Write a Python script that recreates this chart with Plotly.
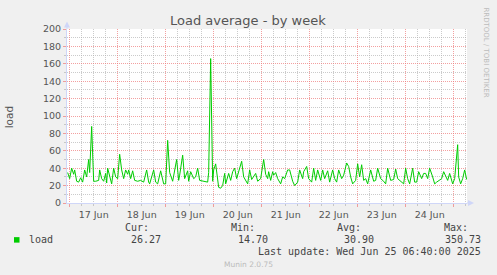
import plotly.graph_objects as go

# ---- data ----
times = [
    "2025-06-16 23:00", "2025-06-17 00:00", "2025-06-17 01:00", "2025-06-17 02:00", "2025-06-17 02:30",
    "2025-06-17 03:30", "2025-06-17 04:30", "2025-06-17 05:30", "2025-06-17 06:30", "2025-06-17 07:30",
    "2025-06-17 08:30", "2025-06-17 09:30", "2025-06-17 10:00", "2025-06-17 11:00", "2025-06-17 12:00",
    "2025-06-17 13:00", "2025-06-17 14:30", "2025-06-17 15:00", "2025-06-17 16:00", "2025-06-17 17:00",
    "2025-06-17 18:00", "2025-06-17 18:30", "2025-06-17 19:00", "2025-06-17 20:00", "2025-06-17 21:00",
    "2025-06-17 22:00", "2025-06-17 23:00", "2025-06-18 00:00", "2025-06-18 01:00", "2025-06-18 02:00",
    "2025-06-18 03:00", "2025-06-18 04:00", "2025-06-18 05:00", "2025-06-18 05:30", "2025-06-18 06:30",
    "2025-06-18 07:30", "2025-06-18 08:30", "2025-06-18 10:00", "2025-06-18 11:30", "2025-06-18 13:00",
    "2025-06-18 14:30", "2025-06-18 15:30", "2025-06-18 16:00", "2025-06-18 18:00", "2025-06-18 19:00",
    "2025-06-18 20:00", "2025-06-18 21:30", "2025-06-18 23:00", "2025-06-19 00:00", "2025-06-19 01:00",
    "2025-06-19 02:00", "2025-06-19 03:30", "2025-06-19 05:30", "2025-06-19 06:30", "2025-06-19 07:00",
    "2025-06-19 08:30", "2025-06-19 09:30", "2025-06-19 11:00", "2025-06-19 11:30", "2025-06-19 12:30",
    "2025-06-19 14:00", "2025-06-19 15:00", "2025-06-19 16:00", "2025-06-19 17:00", "2025-06-19 19:00",
    "2025-06-19 21:00", "2025-06-19 21:30", "2025-06-19 22:30", "2025-06-19 23:30", "2025-06-20 00:00",
    "2025-06-20 01:00", "2025-06-20 02:00", "2025-06-20 02:30", "2025-06-20 03:30", "2025-06-20 04:30",
    "2025-06-20 05:30", "2025-06-20 06:00", "2025-06-20 07:30", "2025-06-20 08:30", "2025-06-20 09:30",
    "2025-06-20 10:30", "2025-06-20 11:30", "2025-06-20 12:30", "2025-06-20 14:00", "2025-06-20 15:00",
    "2025-06-20 15:30", "2025-06-20 17:00", "2025-06-20 18:00", "2025-06-20 19:00", "2025-06-20 21:00",
    "2025-06-20 22:00", "2025-06-20 23:30", "2025-06-21 01:00", "2025-06-21 02:00", "2025-06-21 03:00",
    "2025-06-21 03:30", "2025-06-21 04:30", "2025-06-21 05:30", "2025-06-21 06:00", "2025-06-21 07:00",
    "2025-06-21 08:00", "2025-06-21 09:30", "2025-06-21 10:30", "2025-06-21 11:30", "2025-06-21 13:00",
    "2025-06-21 14:00", "2025-06-21 15:30", "2025-06-21 16:30", "2025-06-21 18:00", "2025-06-21 19:00",
    "2025-06-21 20:30", "2025-06-21 21:00", "2025-06-21 22:30", "2025-06-21 23:30", "2025-06-22 01:00",
    "2025-06-22 02:00", "2025-06-22 03:00", "2025-06-22 04:00", "2025-06-22 05:30", "2025-06-22 06:30",
    "2025-06-22 07:30", "2025-06-22 09:00", "2025-06-22 10:00", "2025-06-22 11:30", "2025-06-22 12:30",
    "2025-06-22 13:30", "2025-06-22 14:30", "2025-06-22 16:00", "2025-06-22 17:00", "2025-06-22 18:30",
    "2025-06-22 19:30", "2025-06-22 20:30", "2025-06-22 21:30", "2025-06-22 23:00", "2025-06-23 00:00",
    "2025-06-23 01:00", "2025-06-23 02:00", "2025-06-23 03:00", "2025-06-23 04:00", "2025-06-23 05:00",
    "2025-06-23 06:30", "2025-06-23 08:00", "2025-06-23 09:00", "2025-06-23 10:00", "2025-06-23 11:30",
    "2025-06-23 13:00", "2025-06-23 14:00", "2025-06-23 15:00", "2025-06-23 16:30", "2025-06-23 18:00",
    "2025-06-23 19:00", "2025-06-23 20:00", "2025-06-23 21:30", "2025-06-23 23:00", "2025-06-24 00:00",
    "2025-06-24 01:00", "2025-06-24 02:00", "2025-06-24 03:30", "2025-06-24 04:30", "2025-06-24 05:30",
    "2025-06-24 06:30", "2025-06-24 08:00", "2025-06-24 09:00", "2025-06-24 10:00", "2025-06-24 11:00",
    "2025-06-24 12:00", "2025-06-24 13:30", "2025-06-24 14:30", "2025-06-24 15:30", "2025-06-24 16:30",
    "2025-06-24 18:00", "2025-06-24 19:00", "2025-06-24 20:00", "2025-06-24 21:00", "2025-06-24 22:00",
    "2025-06-24 23:30", "2025-06-25 00:30", "2025-06-25 02:00", "2025-06-25 02:30", "2025-06-25 03:30",
    "2025-06-25 04:30", "2025-06-25 05:30", "2025-06-25 06:30",
]
load = [
    35, 28, 40, 33, 38,
    25, 24, 29, 24, 38,
    30, 50, 35, 88, 25,
    25, 26, 38, 28, 25,
    34, 23, 40, 30, 22,
    40, 30, 28, 56, 38,
    28, 38, 33, 38, 28,
    37, 26, 25, 26, 24,
    38, 24, 22, 38, 24,
    22, 37, 22, 22, 72,
    35, 25, 50, 26, 32,
    55, 28, 37, 25, 36,
    28, 30, 40, 26, 25,
    24, 35, 166, 25, 38,
    45, 22, 18, 17, 20,
    34, 22, 34, 26, 36,
    40, 28, 35, 48, 30,
    28, 22, 38, 27, 34,
    25, 28, 50, 33, 28,
    36, 26, 36, 32, 35,
    28, 22, 30, 28, 38,
    38, 25, 20, 24, 38,
    28, 36, 42, 28, 24,
    40, 26, 38, 26, 38,
    28, 37, 24, 38, 28,
    24, 38, 28, 32, 46,
    42, 30, 22, 26, 45,
    30, 44, 26, 28, 22,
    38, 25, 26, 40, 28,
    25, 22, 40, 26, 27,
    39, 28, 25, 22, 40,
    28, 22, 40, 24, 24,
    36, 28, 34, 34, 28,
    40, 30, 22, 24, 26,
    28, 36, 30, 26, 34,
    22, 28, 67, 30, 22,
    28, 38, 27,
]

x_range = ["2025-06-16 22:40", "2025-06-25 06:40"]
y_range = [0, 200]
legend_headers = ["Cur:", "Min:", "Avg:", "Max:"]
legend_values = ["26.27", "14.70", "30.90", "350.73"]
series_name = "load"
last_update = "Last update: Wed Jun 25 06:40:00 2025"

# ---- styling ----
W, H = 497, 275
L, R, T, B = 67, 30, 28.5, 72.2
PW, PH = W - L - R, H - T - B
FONT = "DejaVu Sans"
MONO = "DejaVu Sans Mono"
TXT = "#555555"
LEG = "#444444"
MAJOR = "rgba(238,120,120,0.7)"
MINOR = "rgba(175,175,175,0.65)"
DOT = "1px,1px"
AXIS = "#CFD6F8"
GREEN = "#00CC00"


def px(xp):
    return (xp - L) / PW


def py(yp):
    return (H - B - yp) / PH


fig = go.Figure()
fig.add_trace(go.Scatter(x=times, y=load, mode="lines",
                         line=dict(color=GREEN, width=1), name=series_name,
                         showlegend=False, hoverinfo="skip"))

fig.update_xaxes(
    type="date", range=x_range, tick0="2025-06-17", dtick=86400000,
    tickformat="%d %b", ticklabelmode="period",
    showgrid=True, gridcolor=MAJOR, griddash=DOT, gridwidth=1,
    ticks="outside", ticklen=3, tickcolor=MAJOR,
    minor=dict(dtick=6 * 3600 * 1000, showgrid=True, gridcolor=MINOR,
               griddash=DOT, ticks="outside", ticklen=2, tickcolor=MINOR),
    showline=True, linecolor=AXIS, linewidth=1, zeroline=False,
    tickfont=dict(family=FONT, size=9.5, color=TXT),
)
fig.update_yaxes(
    range=y_range, dtick=20, tick0=0,
    showgrid=True, gridcolor=MAJOR, griddash=DOT, gridwidth=1,
    ticks="outside", ticklen=3, tickcolor=MAJOR,
    minor=dict(dtick=10, showgrid=True, gridcolor=MINOR, griddash=DOT,
               ticks="outside", ticklen=2, tickcolor=MINOR),
    showline=True, linecolor=AXIS, linewidth=1, zeroline=False,
    tickfont=dict(family=FONT, size=9.5, color=TXT),
)

shapes = [
    # y axis extension + arrow
    dict(type="line", xref="paper", yref="paper", x0=0, x1=0, y0=1, y1=py(24),
         line=dict(color=AXIS, width=1)),
    dict(type="path", xref="paper", yref="paper",
         path=f"M {px(64)},{py(27)} L {px(70)},{py(27)} L {px(67)},{py(21)} Z",
         fillcolor=AXIS, line=dict(color=AXIS, width=0)),
    # x axis extension + arrow
    dict(type="line", xref="paper", yref="paper", x0=1, x1=px(470), y0=0, y1=0,
         line=dict(color=AXIS, width=1)),
    dict(type="path", xref="paper", yref="paper",
         path=f"M {px(468)},{py(H - B - 3)} L {px(468)},{py(H - B + 3)} L {px(474)},{py(H - B)} Z",
         fillcolor=AXIS, line=dict(color=AXIS, width=0)),
    # legend colour box
    dict(type="rect", xref="paper", yref="paper",
         x0=px(14), x1=px(19.5), y0=py(242.5), y1=py(237),
         fillcolor=GREEN, line=dict(width=0)),
]

ann = []
ann.append(dict(text="Load average - by week", x=px(248), y=py(19.5), xref="paper", yref="paper",
                showarrow=False, xanchor="center", yanchor="middle",
                font=dict(family=FONT, size=13, color=TXT)))
ann.append(dict(text="load", x=px(9), y=py(117), xref="paper", yref="paper", textangle=-90,
                showarrow=False, xanchor="center", yanchor="middle",
                font=dict(family=FONT, size=10.5, color=TXT)))
ann.append(dict(text="RRDTOOL / TOBI OETIKER", x=px(486), y=py(52), xref="paper", yref="paper",
                textangle=90, showarrow=False, xanchor="center", yanchor="middle",
                font=dict(family=FONT, size=7, color="#BBBBBB")))
ann.append(dict(text=series_name, x=px(27), y=py(239.5), xref="paper", yref="paper",
                showarrow=False, xanchor="left", yanchor="middle",
                font=dict(family=MONO, size=10, color=LEG)))
head_right = [151, 257, 363, 470]
val_right = [163, 269.5, 376, 483]
for h, v, hr, vr in zip(legend_headers, legend_values, head_right, val_right):
    ann.append(dict(text=h, x=px(hr), y=py(227.5), xref="paper", yref="paper",
                    showarrow=False, xanchor="right", yanchor="middle",
                    font=dict(family=MONO, size=10, color=LEG)))
    ann.append(dict(text=v, x=px(vr), y=py(239.5), xref="paper", yref="paper",
                    showarrow=False, xanchor="right", yanchor="middle",
                    font=dict(family=MONO, size=10, color=LEG)))
ann.append(dict(text=last_update, x=px(483), y=py(251.7), xref="paper", yref="paper",
                showarrow=False, xanchor="right", yanchor="middle",
                font=dict(family=MONO, size=10, color=LEG)))
ann.append(dict(text="Munin 2.0.75", x=px(248), y=py(264), xref="paper", yref="paper",
                showarrow=False, xanchor="center", yanchor="middle",
                font=dict(family=FONT, size=7.5, color="#BBBBBB")))

fig.update_layout(
    width=W, height=H, margin=dict(l=L, r=R, t=T, b=B, pad=0),
    paper_bgcolor="#F0F0F0", plot_bgcolor="#FFFFFF",
    shapes=shapes, annotations=ann, showlegend=False,
)

fig.write_html("out.html", config={"displayModeBar": False})
